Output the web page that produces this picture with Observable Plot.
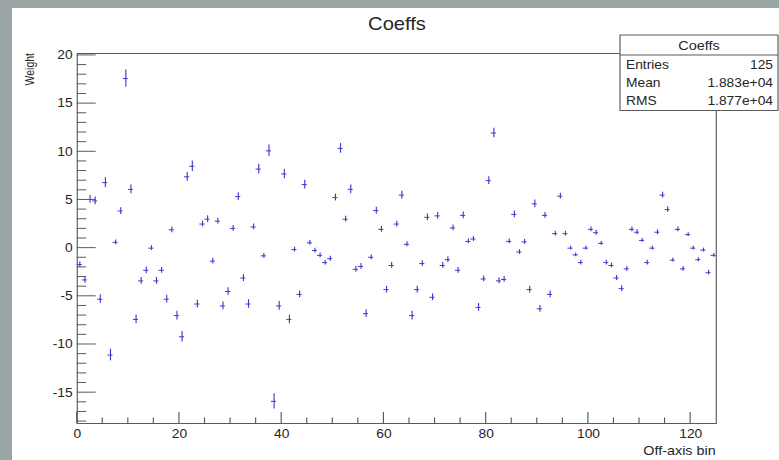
<!DOCTYPE html>
<html>
<head>
<meta charset="utf-8">
<script src="https://cdn.jsdelivr.net/npm/d3@7"></script>
<script src="https://cdn.jsdelivr.net/npm/@observablehq/plot@0.6"></script>
<style>
  html, body { margin: 0; padding: 0; background: #fff; }
  svg { display: block; }
</style>
</head>
<body>
<div id="chart"></div>
<script>
// Histogram "Coeffs": one weight per off-axis bin, with its error.
const histTitle = "Coeffs";
const xLabel = "Off-axis bin";
const yLabel = "Weight";
const nBins = 125;

const weights = [
  -1.7, -3.3, 5.05, 4.9, -5.3, 6.8, -11.1, 0.6, 3.85, 17.6,
  6.1, -7.4, -3.4, -2.3, 0.0, -3.4, -2.3, -5.3, 1.9, -7.0,
  -9.2, 7.4, 8.5, -5.8, 2.5, 3.0, -1.35, 2.8, -6.0, -4.5,
  2.05, 5.35, -3.1, -5.8, 2.2, 8.2, -0.8, 10.1, -15.9, -6.0,
  7.7, -7.4, -0.15, -4.8, 6.6, 0.55, -0.25, -0.75, -1.5, -1.1,
  5.25, 10.35, 3.0, 6.1, -2.2, -1.9, -6.8, -0.95, 3.9, 1.95,
  -4.3, -1.8, 2.5, 5.5, 0.4, -7.0, -4.3, -1.6, 3.2, -5.1,
  3.35, -1.8, -1.2, 2.1, -2.3, 3.4, 0.7, 0.95, -6.15, -3.2,
  7.0, 11.95, -3.4, -3.25, 0.7, 3.5, -0.4, 0.65, -4.3, 4.6,
  -6.3, 3.4, -4.8, 1.5, 5.4, 1.5, 0.0, -0.7, -1.5, 0.0,
  1.95, 1.6, 0.5, -1.5, -1.8, -3.1, -4.2, -2.15, 1.95, 1.65,
  0.8, -1.5, 0.0, 1.65, 5.5, 4.0, -1.25, 1.95, -2.15, 1.4,
  0.0, -1.2, -0.2, -2.55, -0.75
];

const errors = [
  0.3, 0.35, 0.4, 0.4, 0.45, 0.5, 0.6, 0.25, 0.35, 0.9,
  0.45, 0.45, 0.35, 0.35, 0.25, 0.35, 0.3, 0.4, 0.3, 0.45,
  0.55, 0.45, 0.55, 0.4, 0.3, 0.35, 0.3, 0.3, 0.4, 0.4,
  0.3, 0.4, 0.35, 0.45, 0.3, 0.5, 0.25, 0.6, 0.8, 0.45,
  0.5, 0.45, 0.25, 0.35, 0.45, 0.25, 0.25, 0.25, 0.25, 0.25,
  0.35, 0.5, 0.3, 0.45, 0.3, 0.3, 0.4, 0.25, 0.35, 0.3,
  0.35, 0.3, 0.3, 0.4, 0.25, 0.45, 0.35, 0.3, 0.35, 0.35,
  0.35, 0.3, 0.3, 0.3, 0.3, 0.35, 0.25, 0.25, 0.4, 0.3,
  0.4, 0.5, 0.3, 0.3, 0.25, 0.35, 0.25, 0.25, 0.35, 0.4,
  0.35, 0.3, 0.35, 0.25, 0.3, 0.25, 0.2, 0.2, 0.25, 0.2,
  0.25, 0.25, 0.2, 0.25, 0.25, 0.25, 0.3, 0.25, 0.25, 0.25,
  0.2, 0.25, 0.2, 0.25, 0.3, 0.3, 0.2, 0.25, 0.25, 0.2,
  0.2, 0.2, 0.2, 0.25, 0.2
];

const xTicks = [0, 20, 40, 60, 80, 100, 120];
const yTicks = [-15, -10, -5, 0, 5, 10, 15, 20];
const yDomain = [-18.2, 20.2];

const statLabels = ["Entries", "Mean", "RMS"];
const statValues = ["125", "1.883e+04", "1.877e+04"];

// one record per bin: edges, centre, weight and error band
const bins = weights.map((w, i) => ({
  x0: i, x1: i + 1, mid: i + 0.5, w, lo: w - errors[i], hi: w + errors[i]
}));

// ---- layout (screen pixels); the canvas is drawn slightly wide ----
const W = 779, H = 460;
const S = 1.15;                // horizontal stretch of the whole canvas
const DW = W / S;              // drawing width in SVG units
const F = {left: 76.7, right: 715.7, top: 53, bottom: 423};
const FONT = "'Liberation Sans', Arial, Helvetica, sans-serif";
const INK = "#262626";
const LINE = "#5a5a5a";
const BLUE = "#3c3cd2";

const chart = Plot.plot({
  width: DW,
  height: H,
  marginLeft: F.left / S,
  marginRight: DW - F.right / S,
  marginTop: F.top,
  marginBottom: H - F.bottom,
  style: {fontFamily: FONT, fontSize: "12px", color: INK, background: "none"},
  x: {domain: [0, nBins]},
  y: {domain: yDomain},
  marks: [
    // vertical error bars at bin centres
    Plot.ruleX(bins, {x: "mid", y1: "lo", y2: "hi", stroke: BLUE, strokeWidth: 1}),
    // horizontal bars spanning each bin
    Plot.ruleY(bins, {y: "w", x1: "x0", x2: "x1", stroke: BLUE, strokeWidth: 1}),
    Plot.axisX(xTicks, {anchor: "bottom", tickSize: 0, tickPadding: 6, label: null,
      tickFormat: d => String(d), fontSize: 12}),
    Plot.axisY(yTicks, {anchor: "left", tickSize: 0, tickPadding: 4, label: null,
      tickFormat: d => String(d), fontSize: 12}),
    Plot.frame({stroke: LINE, strokeWidth: 1})
  ]
});

chart.setAttribute("width", W);
chart.setAttribute("height", H);
chart.setAttribute("viewBox", `0 0 ${DW} ${H}`);
chart.setAttribute("preserveAspectRatio", "none");
chart.style.width = W + "px";
chart.style.height = H + "px";
chart.style.maxWidth = "none";

const svg = d3.select(chart);
const sx = chart.scale("x"), sy = chart.scale("y");

// canvas: white pad on a grey border
svg.insert("rect", ":first-child")
  .attr("x", 12 / S).attr("y", 8).attr("width", DW).attr("height", H)
  .attr("fill", "#ffffff");
svg.insert("rect", ":first-child")
  .attr("x", 0).attr("y", 0).attr("width", DW).attr("height", H)
  .attr("fill", "#99a5a4");

// axis ticks drawn inside the frame
const ticks = svg.append("g").attr("stroke", LINE).attr("stroke-width", 1);
for (const v of d3.range(0, nBins, 5)) {
  const len = v % 20 === 0 ? 11 : 5.5;
  const px = sx.apply(v);
  ticks.append("line").attr("x1", px).attr("x2", px)
    .attr("y1", F.bottom).attr("y2", F.bottom - len);
}
for (const v of d3.range(-18, 21)) {
  const len = (v % 5 === 0 ? 19 : 9.5) / S;
  const py = sy.apply(v);
  ticks.append("line").attr("x1", F.left / S).attr("x2", F.left / S + len)
    .attr("y1", py).attr("y2", py);
}

// titles
const txt = svg.append("g").attr("font-family", FONT).attr("fill", INK);
txt.append("text").attr("x", 397 / S).attr("y", 30)
  .attr("text-anchor", "middle").attr("font-size", 17.5).text(histTitle);
txt.append("text").attr("x", F.right / S).attr("y", 455)
  .attr("text-anchor", "end").attr("font-size", 12.5).text(xLabel);
txt.append("text").attr("transform", `translate(${34 / S},${F.top}) rotate(-90)`)
  .attr("text-anchor", "end").attr("font-size", 10.5).text(yLabel);

// statistics box
const box = {left: 620, right: 778, top: 35, bottom: 110.5, head: 55};
const stats = svg.append("g").attr("font-family", FONT).attr("fill", INK);
stats.append("rect")
  .attr("x", box.left / S).attr("y", box.top)
  .attr("width", (box.right - box.left) / S).attr("height", box.bottom - box.top)
  .attr("fill", "#fff").attr("stroke", LINE).attr("stroke-width", 1);
stats.append("line")
  .attr("x1", box.left / S).attr("x2", box.right / S)
  .attr("y1", box.head).attr("y2", box.head)
  .attr("stroke", LINE).attr("stroke-width", 1);
stats.append("text").attr("x", (box.left + box.right) / 2 / S).attr("y", 50)
  .attr("text-anchor", "middle").attr("font-size", 12.5).text(histTitle);
const rowY = [69.5, 87.5, 105];
statLabels.forEach((lab, i) => {
  stats.append("text").attr("x", 626 / S).attr("y", rowY[i])
    .attr("text-anchor", "start").attr("font-size", 12).text(lab);
  stats.append("text").attr("x", 773 / S).attr("y", rowY[i])
    .attr("text-anchor", "end").attr("font-size", 12).text(statValues[i]);
});

document.getElementById("chart").appendChild(chart);
</script>
</body>
</html>
